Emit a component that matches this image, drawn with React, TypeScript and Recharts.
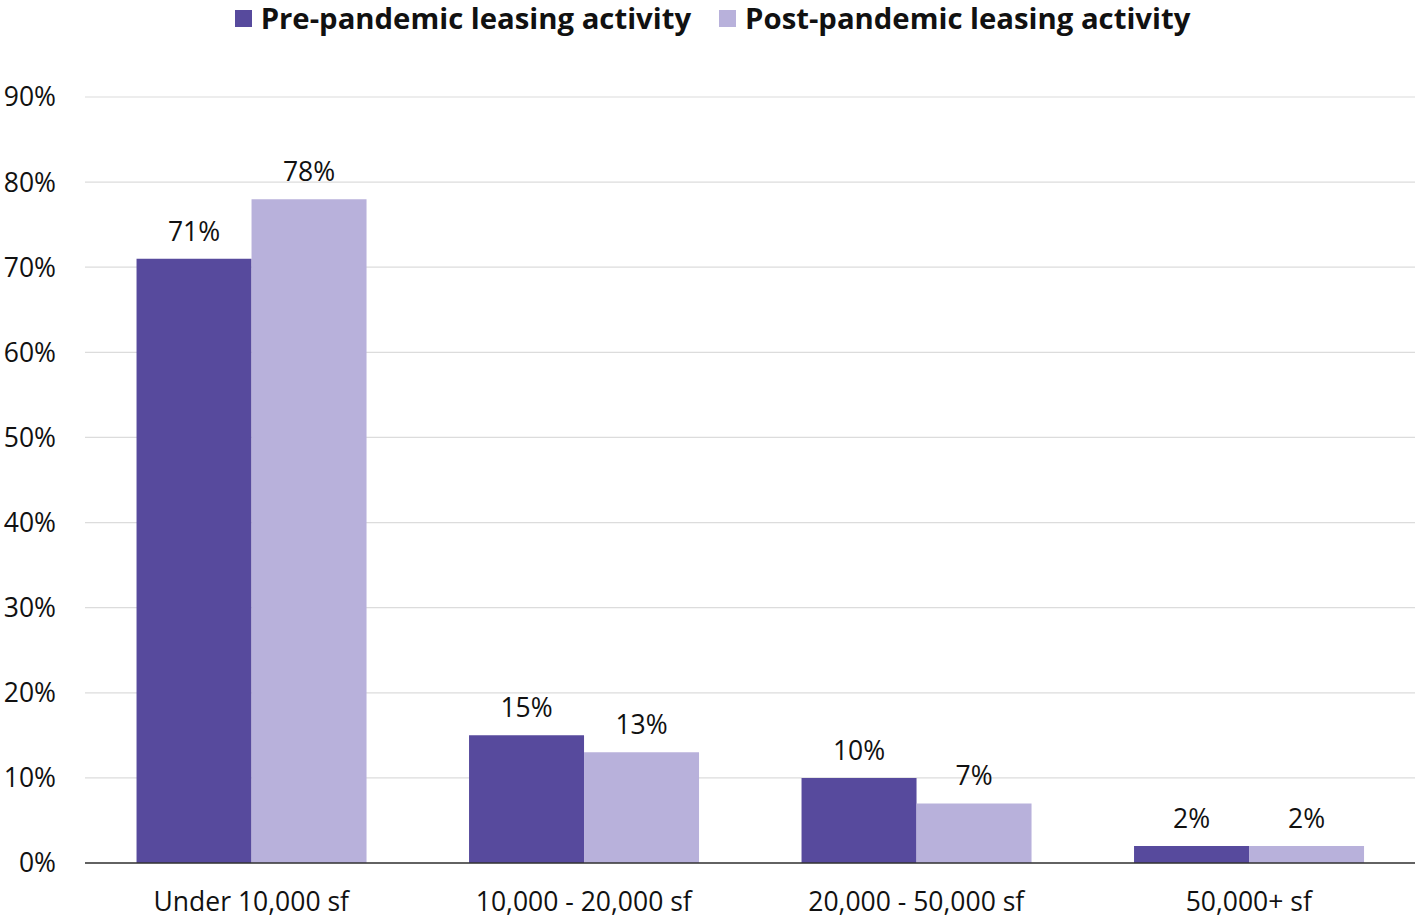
import React from "react";
import { BarChart, Bar, XAxis, YAxis, CartesianGrid, Legend, LabelList } from "recharts";

const categories = ["Under 10,000 sf", "10,000 - 20,000 sf", "20,000 - 50,000 sf", "50,000+ sf"];
const prePandemic = [71, 15, 10, 2];
const postPandemic = [78, 13, 7, 2];
const yTicks = [0, 10, 20, 30, 40, 50, 60, 70, 80, 90];

const seriesNames = {
  pre: "Pre-pandemic leasing activity",
  post: "Post-pandemic leasing activity",
};
const colors = { pre: "#574A9D", post: "#B8B1DB" };
const seriesOrder = ["pre", "post"];

const data = categories.map((name, i) => ({
  name,
  pre: prePandemic[i],
  post: postPandemic[i],
}));

const FONT = "'Open Sans', sans-serif";

const LegendContent = (props: any) => {
  const items = [...(props.payload || [])].sort(
    (a: any, b: any) => seriesOrder.indexOf(a.dataKey) - seriesOrder.indexOf(b.dataKey)
  );
  return (
    <div
      style={{
        height: 34,
        display: "flex",
        justifyContent: "center",
        alignItems: "center",
        fontFamily: FONT,
        fontWeight: 700,
        fontSize: 29.3,
        lineHeight: "30px",
        color: "#111",
        gap: 28,
        paddingLeft: 10,
      }}
    >
      {items.map((it: any) => (
        <div key={it.value} style={{ display: "flex", alignItems: "center" }}>
          <span
            style={{
              display: "inline-block",
              width: 17,
              height: 17,
              background: it.color,
              marginRight: 9,
            }}
          />
          <span style={{ display: "inline-block", lineHeight: "30px" }}>{it.value}</span>
        </div>
      ))}
    </div>
  );
};

export default function App() {
  return (
    <div style={{ position: "absolute", left: 0, top: 0, background: "#fff" }}>
      <BarChart
        width={1415}
        height={918}
        data={data}
        margin={{ top: 63, right: 0, bottom: 0, left: 0 }}
        barCategoryGap="15.5%"
        barGap={0}
      >
        <CartesianGrid vertical={false} stroke="#dcdcdc" strokeWidth={1.2} />
        <XAxis
          dataKey="name"
          height={55}
          tickLine={false}
          axisLine={{ stroke: "#333", strokeWidth: 1.5 }}
          tick={{ fontFamily: FONT, fontSize: 26.5, fill: "#111" }}
          tickMargin={23}
        />
        <YAxis
          width={85}
          domain={[0, 90]}
          ticks={yTicks}
          interval={0}
          tickFormatter={(v: number) => `${v}%`}
          axisLine={false}
          tickLine={false}
          tickSize={0}
          tickMargin={29}
          tick={{ fontFamily: FONT, fontSize: 26.5, fill: "#111" }}
        />
        <Legend
          verticalAlign="top"
          align="center"
          content={LegendContent}
          wrapperStyle={{ top: 1, left: 0, width: 1415 }}
        />
        <Bar dataKey="pre" name={seriesNames.pre} fill={colors.pre} isAnimationActive={false}>
          <LabelList
            dataKey="pre"
            position="top"
            offset={18}
            formatter={(v: number) => `${v}%`}
            style={{ fontFamily: FONT, fontSize: 26.5, fill: "#111" }}
          />
        </Bar>
        <Bar dataKey="post" name={seriesNames.post} fill={colors.post} isAnimationActive={false}>
          <LabelList
            dataKey="post"
            position="top"
            offset={18}
            formatter={(v: number) => `${v}%`}
            style={{ fontFamily: FONT, fontSize: 26.5, fill: "#111" }}
          />
        </Bar>
      </BarChart>
    </div>
  );
}
